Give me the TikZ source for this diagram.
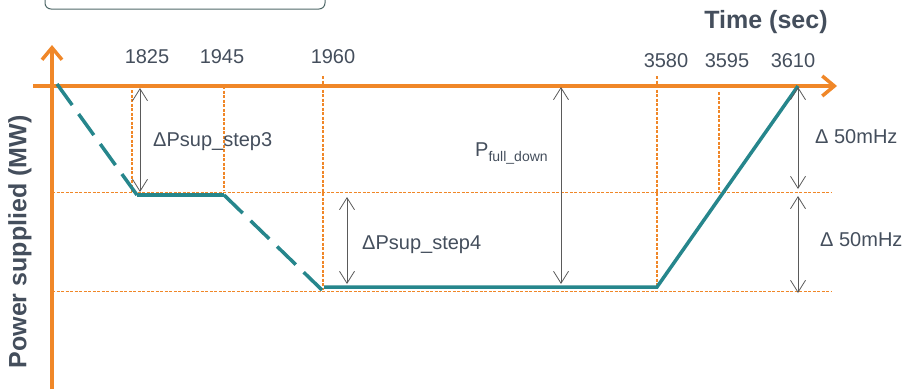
\documentclass[tikz,border=0pt]{standalone}
\usepackage{fontspec}
\setmainfont{Liberation Sans}
\usepackage{xcolor}
\usepackage{tikz}
\usetikzlibrary{arrows.meta}
\definecolor{axisorange}{RGB}{240,135,40}
\definecolor{curveteal}{RGB}{38,134,140}
\definecolor{labelgray}{RGB}{68,78,92}
\definecolor{dimgray}{RGB}{90,90,90}
\definecolor{boxgray}{RGB}{80,105,105}

\begin{document}
\begin{tikzpicture}[x=1pt,y=-1pt,
            axis/.style={axisorange, line width=3.5pt, -{Straight Barb[length=12pt,width=20pt]}},
            guide/.style={axisorange, line width=1.1pt, dash pattern=on 3pt off 1.5pt},
            curve/.style={curveteal, line width=3.5pt},
            gap/.style={curve, dash pattern=on 26pt off 11pt},
            dim/.style={dimgray, line width=0.8pt, {Straight Barb[length=12pt,width=15pt]}-{Straight Barb[length=12pt,width=15pt]}},
            tick/.style={labelgray, font=\fontsize{20}{24}\selectfont, inner sep=0pt},
            lbl/.style={labelgray, font=\fontsize{20}{24}\selectfont, anchor=west, inner sep=0pt},
            title/.style={labelgray, font=\fontsize{25}{30}\selectfont\bfseries, inner sep=0pt}]
        \clip (0,0) rectangle (906,389);
        \draw[boxgray, line width=1pt, rounded corners=6pt] (45,-20) rectangle (325,9);

        \draw[guide] (52,192.5) -- (832,192.5);
        \draw[guide] (52,291.5) -- (832,291.5);
        \draw[guide] (132,90) -- (132,192);
        \draw[guide] (224,86) -- (224,190);
        \draw[guide] (323,76) -- (323,290);
        \draw[guide] (657,76) -- (657,287);
        \draw[guide] (719,92) -- (719,192);

        \draw[axis] (33,86) -- (837,86);
        \draw[axis] (52,389) -- (52,45);
        \node[title] (time) at (766,22) {Time (sec)};
        \node[title, rotate=90] (power) at (20,242) {Power supplied (MW)};

        \node[tick] (t1825) at (147,57) {1825};
        \node[tick] (t1945) at (222,57) {1945};
        \node[tick] (t1960) at (333,57) {1960};
        \node[tick] (t3580) at (666,61) {3580};
        \node[tick] (t3595) at (727,61) {3595};
        \node[tick] (t3610) at (793,61) {3610};

        \draw[gap] (57,84) -- (137,195);
        \draw[curve] (137,195) -- (224,195);
        \draw[gap] (224,195) -- (322,290);
        \draw[curve] (324,287) -- (657,287) -- (798,86);

        \draw[dim] (140,88) -- (140,192);
        \draw[dim] (347,197) -- (347,284);
        \draw[dim] (561,87) -- (561,284);
        \draw[dim] (798,87) -- (798,189);
        \draw[dim] (798,196) -- (798,293);

        \node[lbl] (step3) at (153,142) {ΔPsup\_step3};
        \node[lbl] (step4) at (362,245) {ΔPsup\_step4};
        \node[lbl] (pfull) at (475,154) {P{\fontsize{14}{14}\selectfont\raisebox{-5pt}{full\_down}}};
        \node[lbl] (df1) at (815,137) {Δ 50mHz};
        \node[lbl] (df2) at (820,240) {Δ 50mHz};
\end{tikzpicture}
\end{document}
